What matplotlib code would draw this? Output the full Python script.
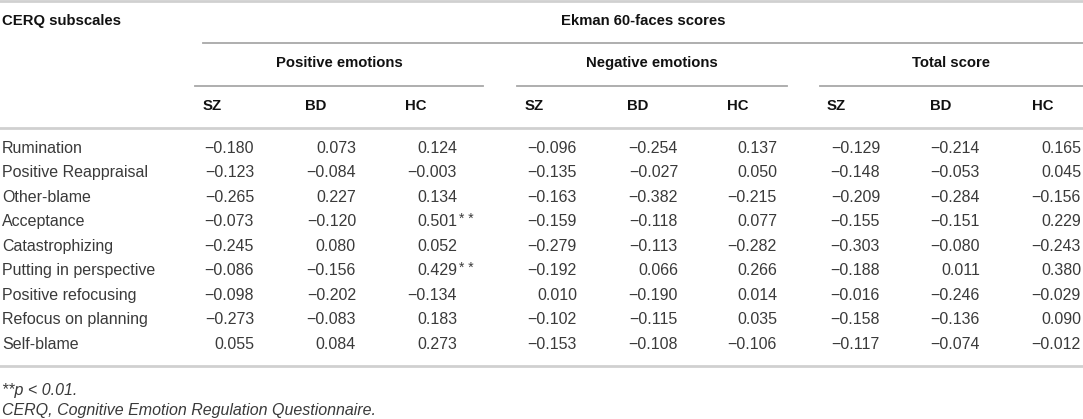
import matplotlib.pyplot as plt

subscales = ['Rumination', 'Positive Reappraisal', 'Other-blame', 'Acceptance',
             'Catastrophizing', 'Putting in perspective', 'Positive refocusing',
             'Refocus on planning', 'Self-blame']
groups = ['SZ', 'BD', 'HC']
blocks = ['Positive emotions', 'Negative emotions', 'Total score']

pos_sz = [-0.180, -0.123, -0.265, -0.073, -0.245, -0.086, -0.098, -0.273, 0.055]
pos_bd = [0.073, -0.084, 0.227, -0.120, 0.080, -0.156, -0.202, -0.083, 0.084]
pos_hc = [0.124, -0.003, 0.134, 0.501, 0.052, 0.429, -0.134, 0.183, 0.273]
neg_sz = [-0.096, -0.135, -0.163, -0.159, -0.279, -0.192, 0.010, -0.102, -0.153]
neg_bd = [-0.254, -0.027, -0.382, -0.118, -0.113, 0.066, -0.190, -0.115, -0.108]
neg_hc = [0.137, 0.050, -0.215, 0.077, -0.282, 0.266, 0.014, 0.035, -0.106]
tot_sz = [-0.129, -0.148, -0.209, -0.155, -0.303, -0.188, -0.016, -0.158, -0.117]
tot_bd = [-0.214, -0.053, -0.284, -0.151, -0.080, 0.011, -0.246, -0.136, -0.074]
tot_hc = [0.165, 0.045, -0.156, 0.229, -0.243, 0.380, -0.029, 0.090, -0.012]
# significance marks (column index, row index)
stars = {(2, 3): '**', (2, 5): '**'}

columns = [pos_sz, pos_bd, pos_hc, neg_sz, neg_bd, neg_hc, tot_sz, tot_bd, tot_hc]

W, H = 1083, 419
fig = plt.figure(figsize=(W / 100, H / 100), dpi=100)
ax = fig.add_axes([0, 0, 1, 1])
ax.set_xlim(0, W)
ax.set_ylim(H, 0)
ax.axis('off')

bold = dict(family='Liberation Sans', fontweight='bold', fontsize=10.7, color='#111111')
body = dict(family='Liberation Sans', fontsize=11.5, color='#3a3a3a')
light_line = '#d0d0d0'
dark_line = '#a8a8a8'

col_left = [203, 305, 405, 525, 627, 727, 827, 930, 1032]
col_right = [254, 356, 457, 577, 678, 777, 880, 980, 1081]
block_span = [(195, 483), (517, 787), (820, W)]

# rules
ax.plot([0, W], [1, 1], color=light_line, lw=2)
ax.plot([203, W], [43, 43], color=dark_line, lw=1.3)
for a, b in block_span:
    ax.plot([a, b], [86, 86], color=dark_line, lw=1.3)
ax.plot([0, W], [128, 128], color=light_line, lw=2)
ax.plot([0, W], [366, 366], color=light_line, lw=2)

# headers
ax.text(2, 21, 'CERQ subscales', ha='left', va='center', **bold)
ax.text((203 + W) / 2, 21, 'Ekman 60-faces scores', ha='center', va='center', **bold)
for (a, b), name in zip(block_span, blocks):
    ax.text((a + b) / 2, 63, name, ha='center', va='center', **bold)
for i, x in enumerate(col_left):
    ax.text(x, 106, groups[i % 3], ha='left', va='center', **bold)

# body
for r, label in enumerate(subscales):
    y = 148 + r * 24.5
    ax.text(2, y, label, ha='left', va='center', **body)
    for c, vals in enumerate(columns):
        s = f'{vals[r]:.3f}'.replace('-', '\u2212')
        ax.text(col_right[c], y, s, ha='right', va='center', **body)
        if (c, r) in stars:
            ax.text(col_right[c] + 2, y - 3, ' '.join(stars[(c, r)]), ha='left',
                    va='center', family='Liberation Sans', fontsize=10, color='#3a3a3a')

ax.text(2, 390, '**p < 0.01.', ha='left', va='center', style='italic', **body)
ax.text(2, 410, 'CERQ, Cognitive Emotion Regulation Questionnaire.', ha='left',
        va='center', style='italic', **body)

fig.savefig('out.png', dpi=100)
